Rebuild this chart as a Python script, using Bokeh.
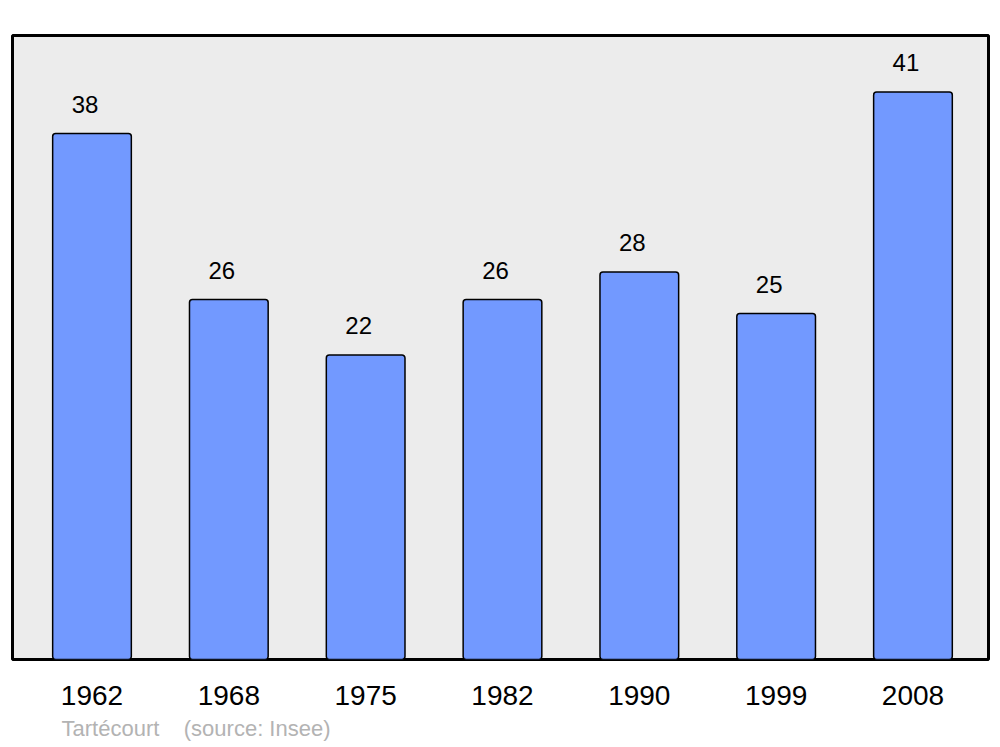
from bokeh.plotting import figure
from bokeh.models import ColumnDataSource, FixedTicker, Title, Range1d
from bokeh.core.properties import value
from bokeh.embed import file_html
from bokeh.resources import INLINE

years = ["1962", "1968", "1975", "1982", "1990", "1999", "2008"]
population = [38, 26, 22, 26, 28, 25, 41]
place = "Tartécourt"
source_note = "(source: Insee)"

xs = list(range(len(years)))
src = ColumnDataSource(dict(x=xs, top=population, label=[str(v) for v in population]))

p = figure(width=992, height=747, output_backend="svg", toolbar_location=None,
           x_range=Range1d(-0.581, 6.552), y_range=Range1d(0, 45.08),
           min_border_left=12, min_border_right=4, min_border_top=35, min_border_bottom=80)
p.background_fill_color = "#ececec"
p.border_fill_color = "white"
p.outline_line_color = "black"
p.outline_line_width = 3
p.xgrid.visible = False
p.ygrid.visible = False
p.yaxis.visible = False

p.vbar(x="x", top="top", width=0.575, bottom=0, source=src,
       fill_color="#7299ff", line_color="black", line_width=1.5, border_radius=3)

p.text(x="x", y="top", text="label", source=src, x_offset=-7, y_offset=-29,
       text_align="center", text_baseline="alphabetic",
       text_font=value("Liberation Sans"), text_font_size="24px", text_color="black")

ax = p.xaxis[0]
ax.ticker = FixedTicker(ticks=xs)
ax.major_label_overrides = {i: y for i, y in zip(xs, years)}
ax.axis_line_color = None
ax.major_tick_line_color = None
ax.minor_tick_line_color = None
ax.major_label_text_font = "Liberation Sans"
ax.major_label_text_font_size = "28px"
ax.major_label_text_color = "black"
ax.major_label_standoff = 20

note = Title(text=place + "\u00a0\u00a0\u00a0\u00a0" + source_note, align="left",
             offset=49, text_font="Liberation Sans", text_font_size="22px",
             text_font_style="normal", text_color="#b3b3b3", standoff=13)
p.add_layout(note, "below")

open("out.html", "w").write(file_html(p, INLINE))
